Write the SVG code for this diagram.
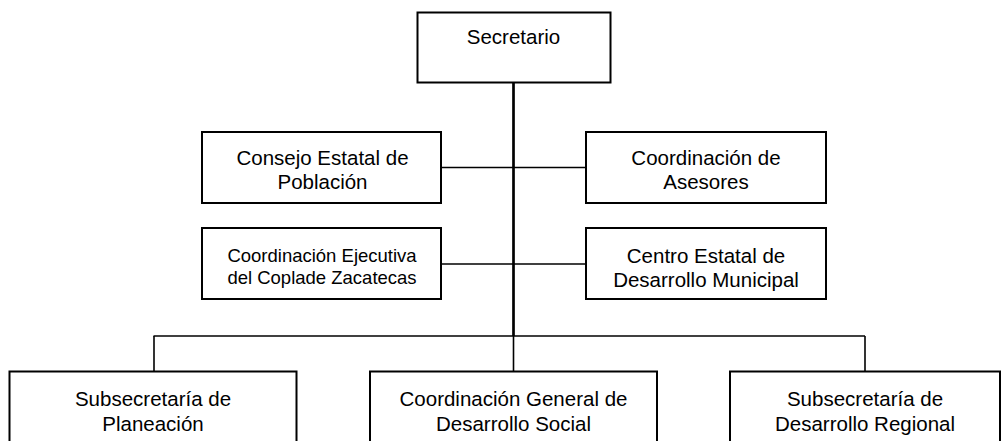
<svg xmlns="http://www.w3.org/2000/svg" width="1004" height="441" viewBox="0 0 1004 441">
<style>
.box{fill:#fff;stroke:#000;stroke-width:2}
.t{font-family:"Liberation Sans",Arial,sans-serif;font-size:20.5px;fill:#000;text-anchor:middle}
.s{font-size:18.5px}
.c{stroke:#000;stroke-width:1.6;fill:none}
.trunk{stroke:#000;stroke-width:2.7;fill:none}
</style>
<rect width="1004" height="441" fill="#fff"/>
<g id="connectors">
<line class="trunk" x1="513.5" y1="82" x2="513.5" y2="336"/>
<line class="c" x1="441" y1="167.5" x2="586" y2="167.5"/>
<line class="c" x1="441" y1="264" x2="586" y2="264"/>
<line class="c" x1="153.5" y1="336" x2="865" y2="336"/>
<line class="c" x1="154" y1="336" x2="154" y2="371"/>
<line class="c" x1="513.5" y1="336" x2="513.5" y2="371"/>
<line class="c" x1="865" y1="336" x2="865" y2="371"/>
</g>
<g id="secretario">
<rect class="box" x="417.5" y="12.5" width="193" height="70"/>
<text class="t" x="513.5" y="44">Secretario</text>
</g>
<g id="consejo">
<rect class="box" x="202" y="132" width="239" height="71"/>
<text class="t" x="322.5" y="165">Consejo Estatal de</text>
<text class="t" x="322.5" y="189">Población</text>
</g>
<g id="asesores">
<rect class="box" x="586" y="132" width="240" height="71"/>
<text class="t" x="706" y="165">Coordinación de</text>
<text class="t" x="706" y="189">Asesores</text>
</g>
<g id="coplade">
<rect class="box" x="202" y="228" width="239" height="71"/>
<text class="t s" x="322" y="262">Coordinación Ejecutiva</text>
<text class="t s" x="322" y="284">del Coplade Zacatecas</text>
</g>
<g id="centro">
<rect class="box" x="586" y="228" width="240" height="71"/>
<text class="t" x="706" y="263">Centro Estatal de</text>
<text class="t" x="706" y="287">Desarrollo Municipal</text>
</g>
<g id="planeacion">
<rect class="box" x="9.5" y="371.5" width="287" height="90"/>
<text class="t" x="153" y="406">Subsecretaría de</text>
<text class="t" x="153" y="431">Planeación</text>
</g>
<g id="social">
<rect class="box" x="370" y="371.5" width="287" height="90"/>
<text class="t" x="513.5" y="406">Coordinación General de</text>
<text class="t" x="513.5" y="431">Desarrollo Social</text>
</g>
<g id="regional">
<rect class="box" x="730" y="371.5" width="270" height="90"/>
<text class="t" x="865" y="406">Subsecretaría de</text>
<text class="t" x="865" y="431">Desarrollo Regional</text>
</g>
</svg>
